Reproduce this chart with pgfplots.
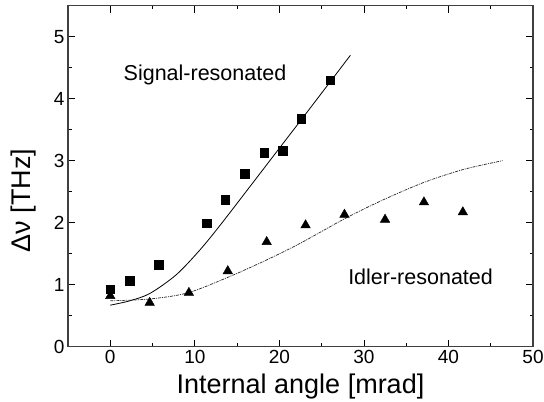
\documentclass[border=0pt]{standalone}
\usepackage{fontspec}
\setmainfont{Liberation Sans}
\usepackage{pgfplots}
\pgfplotsset{compat=1.18}
\begin{document}
\begin{tikzpicture}
\begin{axis}[
  scale only axis, width=465pt, height=341pt,
  xmin=-5, xmax=50, ymin=0, ymax=5.5,
  xtick={0,10,...,50}, ytick={0,1,...,5},
  minor x tick num=1, minor y tick num=1,
  tick align=inside,
  major tick length=7pt, minor tick length=3.5pt,
  tick style={black, line width=0.8pt},
  /pgf/number format/assume math mode=true,
  ticklabel style={font=\fontsize{19}{22}\selectfont},
  axis line style={line width=1.5pt, black!75},
  xlabel={Internal angle [mrad]},
  ylabel={Δν [THz]},
  xlabel style={font=\fontsize{27}{30}\selectfont, inner sep=0pt, at={(axis description cs:0.5,-0.136)}, anchor=base},
  ylabel style={font=\fontsize{27}{30}\selectfont, inner sep=0pt, at={(axis description cs:-0.0946,0.429)}, anchor=center},
  clip=false,
]
\addplot[black, line width=0.8pt, smooth] coordinates {
  (0,0.67) (2.3,0.74) (4.7,0.86) (7.8,1.16) (10.6,1.56) (13,1.96)
  (16.9,2.65) (20.5,3.29) (22.7,3.68) (26,4.27) (28.4,4.70)};
\addplot[black!85, line width=0.7pt, smooth, dash pattern=on 3pt off 1pt on 1pt off 1pt] coordinates {
  (0,0.74) (4.7,0.77) (9.2,0.87) (14.1,1.13) (18.5,1.40) (22.5,1.67)
  (27.8,2.07) (32.3,2.37) (37.1,2.65) (41.8,2.86) (46.4,3.00)};
\addplot[only marks, mark=square*, mark size=4.3pt, black] coordinates {
  (0,0.93) (2.3,1.06) (5.7,1.32) (11.4,1.99) (13.6,2.37) (15.9,2.79)
  (18.2,3.13) (20.4,3.16) (22.6,3.68) (26.0,4.30)};
\addplot[only marks, mark=triangle*, mark size=5.5pt, black] coordinates {
  (0,0.82) (4.66,0.71) (9.3,0.87) (13.9,1.22) (18.5,1.69) (23.1,1.96)
  (27.7,2.13) (32.5,2.05) (37.1,2.33) (41.7,2.17)};
\node[font=\fontsize{21.5}{24}\selectfont] at (axis cs:11.2,4.38) {Signal-resonated};
\node[font=\fontsize{21.5}{24}\selectfont] at (axis cs:36.7,1.13) {Idler-resonated};
\end{axis}
\pgfresetboundingbox
\path[use as bounding box] ([shift={(-68pt,-54.3pt)}]current axis.south west) rectangle ([shift={(11pt,5.7pt)}]current axis.north east);
\end{tikzpicture}
\end{document}
